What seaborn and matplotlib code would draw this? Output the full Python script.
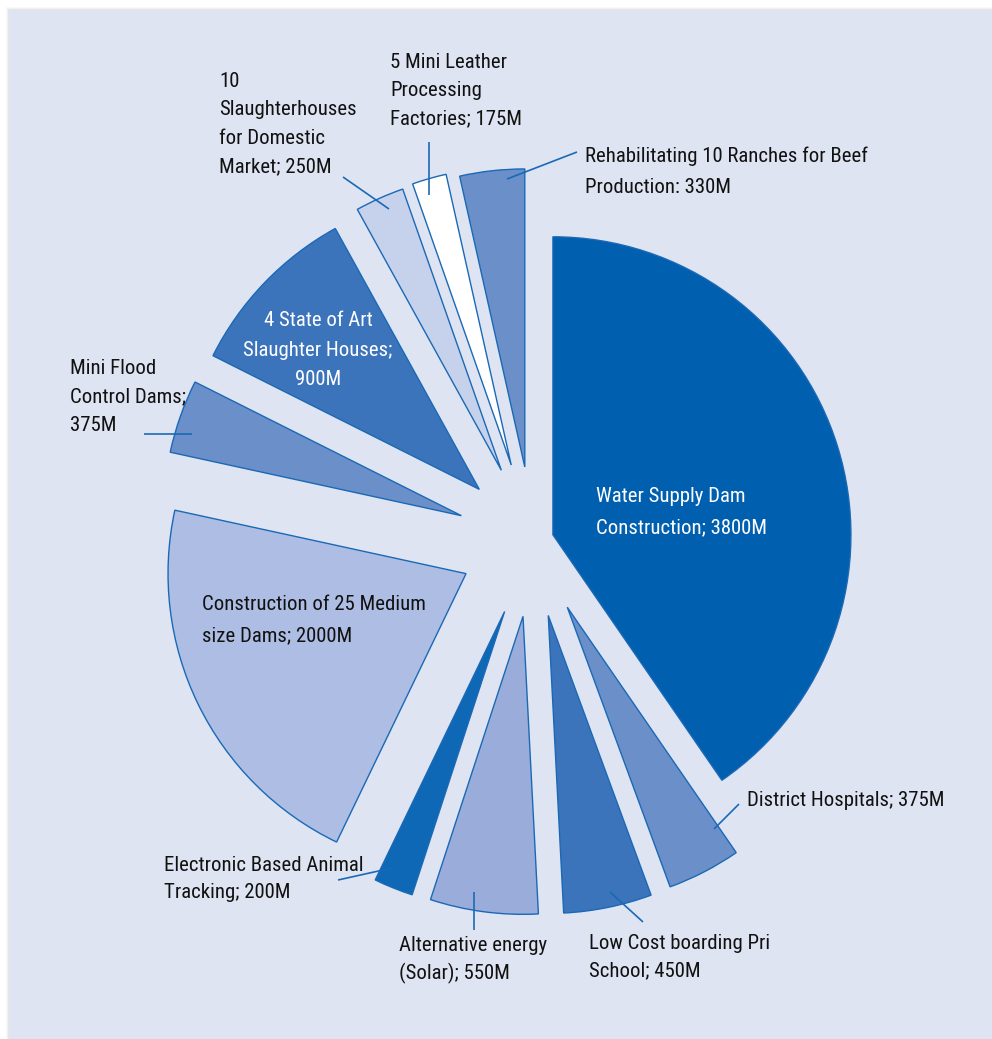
import os
import matplotlib
matplotlib.use("Agg")
import matplotlib.pyplot as plt
from matplotlib import font_manager
from matplotlib.font_manager import FontProperties
from matplotlib.patches import Rectangle
import seaborn as sns

# ---- data ----
categories = [
    "Water Supply Dam\nConstruction; 3800M",
    "District Hospitals; 375M",
    "Low Cost boarding Pri\nSchool; 450M",
    "Alternative energy\n(Solar); 550M",
    "Electronic Based Animal\nTracking; 200M",
    "Construction of 25 Medium\nsize Dams; 2000M",
    "Mini Flood\nControl Dams;\n375M",
    "4 State of Art\nSlaughter Houses;\n900M",
    "10\nSlaughterhouses\nfor Domestic\nMarket; 250M",
    "5 Mini Leather\nProcessing\nFactories; 175M",
    "Rehabilitating 10 Ranches for Beef\nProduction: 330M",
]
values = [3800, 375, 450, 550, 200, 2000, 375, 900, 250, 175, 330]

# ---- style ----
sns.set_theme(style="white")
plt.rcParams["font.family"] = ["Liberation Sans", "DejaVu Sans"]

# look for a condensed / narrow sans face (closest to the reference typeface)
font_prop = None
prefs = ["robotocondensed-regular", "liberationsansnarrow-regular",
         "opensans_condensed", "opensanscondensed", "notosans-condensed.",
         "notosanscondensed-regular", "dejavusanscondensed."]
files = [f.fname for f in font_manager.fontManager.ttflist]
for p in prefs:
    for fn in files:
        b = os.path.basename(fn).lower().replace(" ", "")
        if b.startswith(p) or (p in b and "bold" not in b and "italic" not in b
                               and "light" not in b and "oblique" not in b):
            font_prop = FontProperties(fname=fn)
            break
    if font_prop is not None:
        break
if font_prop is None:
    font_prop = FontProperties(family=["Liberation Sans", "DejaVu Sans"])

colors = ["#005fae", "#6b8fc9", "#3b74bb", "#9aacda", "#0e68b5", "#aebde3",
          "#6b8fc9", "#3b74bb", "#c6d1eb", "#ffffff", "#6b8fc9"]
explode_frac = [0.07, 0.25, 0.255, 0.255, 0.255, 0.25, 0.255, 0.25, 0.26, 0.265, 0.25]
edge = "#1a69b6"
bg = "#dfe4f2"

W, H = 992, 1039
fig = plt.figure(figsize=(W / 100, H / 100), dpi=100, facecolor="white")
ax = fig.add_axes([0, 0, 1, 1])

# panel with soft shadow
for i, a in enumerate([0.05, 0.08, 0.12]):
    ax.add_patch(Rectangle((9 - 3 + i, 0), W, H - 10 + 3 - i, facecolor="#9a9a9a",
                           alpha=a, edgecolor="none", zorder=0))
ax.add_patch(Rectangle((9, 0), W, H - 10, facecolor=bg, edgecolor="none", zorder=0.5))

cx, cy, R = 533, H - 541, 298
wedges, _ = ax.pie(values, startangle=90, counterclock=False,
                   explode=[e * R for e in explode_frac],
                   center=(cx, cy), radius=R, colors=colors,
                   wedgeprops=dict(edgecolor=edge, linewidth=1.0), frame=False)
for w in wedges:
    w.set_zorder(2)

ax.set_xlim(0, W)
ax.set_ylim(0, H)
ax.set_aspect("equal")
ax.axis("off")

# size the font so that the widest single-line label matches the reference width
renderer = fig.canvas.get_renderer()
probe = ax.text(0, 0, "Rehabilitating 10 Ranches for Beef", fontproperties=font_prop,
                fontsize=20)
wpx = probe.get_window_extent(renderer).width
probe.remove()
fs = min(20 * 282.0 / wpx, 17.5)

# measure single line pitch for linespacing=1 to set pixel line spacing exactly
p1 = ax.text(0, 0, "A\nA", fontproperties=font_prop, fontsize=fs, linespacing=1.0)
p0 = ax.text(0, 0, "A", fontproperties=font_prop, fontsize=fs)
pitch1 = p1.get_window_extent(renderer).height - p0.get_window_extent(renderer).height
p1.remove()
p0.remove()

# label positions: (x, y_center_of_block in pixel coords, ha, color, line spacing px)
label_pos = [
    (596, 512, "left", "white", 35),
    (747, 800, "left", "#111111", 30),
    (589, 957, "left", "#111111", 30),
    (399, 960, "left", "#111111", 29),
    (164, 879, "left", "#111111", 30),
    (202, 620, "left", "#111111", 35),
    (70, 397, "left", "#111111", 30.5),
    (318, 350, "center", "white", 32),
    (219, 124, "left", "#111111", 30.7),
    (390, 91, "left", "#111111", 30.5),
    (585, 172, "left", "#111111", 34),
]
for lab, (x, y, ha, c, sp) in zip(categories, label_pos):
    ax.text(x, H - y, lab, ha=ha, va="center", color=c, fontproperties=font_prop,
            fontsize=fs, linespacing=sp / pitch1, multialignment=ha, zorder=5)

# leader lines
leaders = [
    ((739, 804), (714, 829)),
    ((643, 922), (610, 892)),
    ((474, 930), (474, 892)),
    ((338, 880), (392, 868)),
    ((144, 434), (192, 434)),
    ((343, 177), (389, 209)),
    ((429, 142), (429, 195)),
    ((577, 152), (507, 179)),
]
for (x1, y1), (x2, y2) in leaders:
    ax.plot([x1, x2], [H - y1, H - y2], color=edge, lw=1.2, zorder=4,
            solid_capstyle="butt")

fig.savefig("out.png", dpi=100, facecolor="white")
